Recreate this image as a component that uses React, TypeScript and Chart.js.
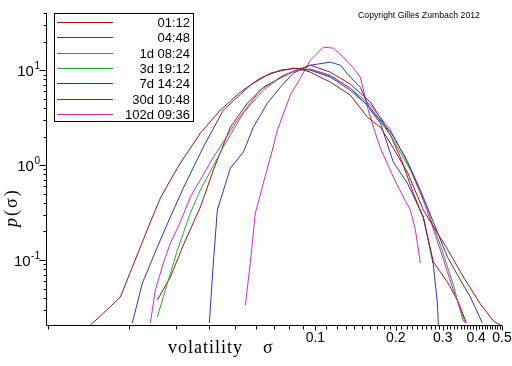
import React, { useEffect, useRef } from "react";
import { Chart, registerables } from "chart.js";
Chart.register(...registerables);

const seriesLabels = ["01:12", "04:48", "1d 08:24", "3d 19:12", "7d 14:24", "30d 10:48", "102d 09:36"];
const seriesColors = ["#a01414", "#3434b0", "#d028d0", "#28aa28", "#a01414", "#3434b0", "#d028d0"];

const sigma0112 = [0.01437, 0.01566, 0.01861, 0.02028, 0.02211, 0.0241, 0.02627, 0.02865, 0.03121, 0.03709, 0.04406, 0.05238, 0.06223, 0.07396, 0.08564, 0.0958, 0.1138, 0.1352, 0.1566, 0.1752, 0.1959, 0.2211, 0.2538, 0.3122, 0.3584, 0.415, 0.4642, 0.4931];
const p0112 = [0.0207, 0.0257, 0.0408, 0.0747, 0.137, 0.251, 0.449, 0.695, 1.05, 2.17, 3.79, 5.87, 8.24, 10.0, 10.5, 9.53, 7.48, 5.46, 3.2, 2.51, 1.51, 0.844, 0.336, 0.1305, 0.0662, 0.0344, 0.0228, 0.0207];

const sigma0448 = [0.02063, 0.0225, 0.0256, 0.02865, 0.03203, 0.03806, 0.04522, 0.0571, 0.06785, 0.08272, 0.0958, 0.1138, 0.1352, 0.1607, 0.191, 0.2173, 0.2473, 0.2767, 0.3122, 0.3492, 0.3807, 0.4222];
const p0448 = [0.0217, 0.0573, 0.137, 0.284, 0.573, 1.55, 3.79, 6.95, 9.3, 10.5, 10.0, 8.44, 6.16, 3.98, 2.23, 1.21, 0.546, 0.251, 0.108, 0.0616, 0.0408, 0.0217];

const sigma1d = [0.0241, 0.02516, 0.02696, 0.02865, 0.03121, 0.03401, 0.0415, 0.05104, 0.06223, 0.07396, 0.08564, 0.0958, 0.1138, 0.1352, 0.1607, 0.191, 0.2269, 0.2582, 0.2939, 0.3287, 0.3647];
const p1d = [0.0217, 0.0483, 0.093, 0.151, 0.251, 0.46, 1.21, 2.98, 6.16, 8.44, 10.0, 10.24, 8.65, 6.46, 4.28, 2.34, 0.93, 0.379, 0.127, 0.0483, 0.0217];

const sigma3d = [0.0256, 0.02792, 0.03043, 0.03401, 0.03709, 0.04522, 0.05375, 0.06387, 0.0759, 0.08564, 0.0958, 0.1138, 0.1352, 0.1607, 0.191, 0.2269, 0.2582, 0.2939, 0.3287, 0.3584];
const p3d = [0.0251, 0.0573, 0.127, 0.312, 0.546, 1.55, 3.53, 6.16, 8.86, 10.0, 10.24, 8.86, 6.46, 3.98, 2.07, 0.886, 0.379, 0.144, 0.0546, 0.0223];

const sigma7d = [0.0256, 0.02865, 0.03203, 0.03709, 0.0415, 0.04805, 0.05564, 0.06387, 0.07396, 0.08272, 0.0958, 0.1138, 0.1352, 0.1607, 0.1752, 0.191, 0.2082, 0.2328, 0.2538, 0.2767, 0.3122, 0.3433, 0.3678];
const p7d = [0.0379, 0.0662, 0.144, 0.361, 0.886, 2.51, 4.49, 6.62, 8.24, 9.76, 11.29, 9.53, 7.12, 4.61, 3.12, 2.07, 1.21, 0.507, 0.277, 0.0953, 0.0587, 0.0361, 0.0217];

const sigma30d = [0.04009, 0.0415, 0.04295, 0.04805, 0.05375, 0.0586, 0.06612, 0.07396, 0.08272, 0.0958, 0.1138, 0.124, 0.1352, 0.1474, 0.1607, 0.1752, 0.1959, 0.2211, 0.2538, 0.2767, 0.2864, 0.2889];
const p30d = [0.0217, 0.0953, 0.336, 0.93, 1.37, 2.51, 4.49, 6.62, 9.3, 11.29, 12.14, 11.29, 8.44, 6.62, 3.79, 2.77, 1.075, 0.647, 0.284, 0.0886, 0.0353, 0.0207];

const sigma102d = [0.05469, 0.0571, 0.05962, 0.06387, 0.06902, 0.07207, 0.08061, 0.08787, 0.0958, 0.1072, 0.1168, 0.1273, 0.1388, 0.1474, 0.1566, 0.1649, 0.1752, 0.1959, 0.2136, 0.2269, 0.2369, 0.2473];
const p102d = [0.0336, 0.0953, 0.312, 0.647, 1.44, 2.34, 5.46, 8.24, 12.74, 17.47, 17.05, 13.71, 10.5, 8.44, 4.08, 2.51, 1.51, 0.748, 0.46, 0.336, 0.207, 0.093];

const seriesSigma = [sigma0112, sigma0448, sigma1d, sigma3d, sigma7d, sigma30d, sigma102d];
const seriesP = [p0112, p0448, p1d, p3d, p7d, p30d, p102d];

const xTickValues = [0.1, 0.2, 0.3, 0.4, 0.5];
const xTickLabels = ["0.1", "0.2", "0.3", "0.4", "0.5"];
const xMinorTicks = [0.01, 0.02, 0.03, 0.04, 0.05, 0.06, 0.07, 0.08, 0.09,
  0.11, 0.12, 0.13, 0.14, 0.15, 0.16, 0.17, 0.18, 0.19,
  0.21, 0.22, 0.23, 0.24, 0.25, 0.26, 0.27, 0.28, 0.29,
  0.31, 0.32, 0.33, 0.34, 0.35, 0.36, 0.37, 0.38, 0.39,
  0.41, 0.42, 0.43, 0.44, 0.45, 0.46, 0.47, 0.48, 0.49];
const yTickValues = [0.1, 1, 10];
const yTickExponents = ["-1", "0", "1"];
const yMinorTicks = [0.03, 0.04, 0.05, 0.06, 0.07, 0.08, 0.09,
  0.2, 0.3, 0.4, 0.5, 0.6, 0.7, 0.8, 0.9,
  2, 3, 4, 5, 6, 7, 8, 9, 20, 30, 40];

const xTitle = "volatility";
const xTitleSymbol = "σ";
const yTitle = ["p", "(σ)"];
const copyright = "Copyright Gilles Zumbach 2012";

const SANS = '"Liberation Sans", Arial, sans-serif';
const SERIF = '"Liberation Serif", "Times New Roman", serif';

const decorPlugin = {
  id: "decor",
  afterDraw(chart: any) {
    const { ctx, chartArea: a, scales } = chart;
    const xs = scales.x;
    const ys = scales.y;
    const ax = Math.round(a.left) + 0.5;
    const ay = Math.round(a.bottom) + 0.5;
    ctx.save();
    ctx.strokeStyle = "#000";
    ctx.lineWidth = 1;
    ctx.beginPath();
    ctx.moveTo(ax, a.top);
    ctx.lineTo(ax, ay);
    ctx.lineTo(a.right, ay);
    for (const v of yMinorTicks) {
      const py = Math.round(ys.getPixelForValue(v)) + 0.5;
      ctx.moveTo(ax - 3, py);
      ctx.lineTo(ax, py);
    }
    for (const v of yTickValues) {
      const py = Math.round(ys.getPixelForValue(v)) + 0.5;
      ctx.moveTo(ax - 7, py);
      ctx.lineTo(ax, py);
    }
    for (const v of xMinorTicks) {
      const px = Math.round(xs.getPixelForValue(v)) + 0.5;
      ctx.moveTo(px, ay);
      ctx.lineTo(px, ay + 4);
    }
    for (const v of xTickValues) {
      const px = Math.round(xs.getPixelForValue(v)) + 0.5;
      ctx.moveTo(px, ay);
      ctx.lineTo(px, ay + 5);
    }
    ctx.stroke();

    ctx.fillStyle = "#000";
    // x tick labels
    ctx.font = "14px " + SANS;
    ctx.textAlign = "center";
    ctx.textBaseline = "alphabetic";
    xTickValues.forEach((v, i) => {
      ctx.fillText(xTickLabels[i], xs.getPixelForValue(v), 342);
    });
    // y tick labels with superscript exponent
    yTickValues.forEach((v, i) => {
      const py = ys.getPixelForValue(v);
      ctx.font = "10px " + SANS;
      ctx.textAlign = "right";
      const ew = ctx.measureText(yTickExponents[i]).width;
      ctx.fillText(yTickExponents[i], 40, py - 1);
      ctx.font = "15px " + SANS;
      ctx.fillText("10", 40 - ew - 0.5, py + 6);
    });

    // x title
    ctx.textAlign = "left";
    ctx.font = "18px " + SERIF;
    (ctx as any).letterSpacing = "1px";
    ctx.fillText(xTitle, 168, 353);
    (ctx as any).letterSpacing = "0px";
    ctx.fillText(xTitleSymbol, 263, 353);

    // y title rotated
    ctx.save();
    ctx.translate(17, 227);
    ctx.rotate(-Math.PI / 2);
    ctx.textAlign = "left";
    ctx.font = "italic 18px " + SERIF;
    ctx.fillText(yTitle[0], 0, 0);
    const pw = ctx.measureText(yTitle[0]).width;
    ctx.font = "18px " + SERIF;
    (ctx as any).letterSpacing = "2px";
    ctx.fillText(yTitle[1], pw + 2, 0);
    (ctx as any).letterSpacing = "0px";
    ctx.restore();

    // copyright
    ctx.font = "9px " + SANS;
    const cw = ctx.measureText(copyright).width;
    const fs = (9 * 122) / cw;
    ctx.font = fs.toFixed(2) + "px " + SANS;
    ctx.textAlign = "left";
    ctx.textBaseline = "middle";
    ctx.fillText(copyright, 358, 16);

    // legend
    const lx0 = 54.5, ly0 = 13.5, lx1 = 193.5, ly1 = 121.5;
    ctx.fillStyle = "#fff";
    ctx.fillRect(lx0, ly0, lx1 - lx0, ly1 - ly0);
    ctx.strokeStyle = "#000";
    ctx.strokeRect(lx0, ly0, lx1 - lx0, ly1 - ly0);
    ctx.font = "13px " + SANS;
    ctx.textAlign = "right";
    ctx.textBaseline = "middle";
    seriesLabels.forEach((lab, i) => {
      const ry = Math.round(22 + i * 15.3) + 0.5;
      ctx.strokeStyle = seriesColors[i];
      ctx.beginPath();
      ctx.moveTo(57, ry);
      ctx.lineTo(113, ry);
      ctx.stroke();
      ctx.fillStyle = "#000";
      ctx.fillText(lab, 190, ry + 0.5);
    });
    ctx.restore();
  },
};

export default function App() {
  const ref = useRef<HTMLCanvasElement | null>(null);
  useEffect(() => {
    if (!ref.current) return;
    const datasets = seriesLabels.map((lab, i) => ({
      label: lab,
      data: seriesSigma[i].map((s, j) => ({ x: s, y: seriesP[i][j] })),
      borderColor: seriesColors[i],
      backgroundColor: seriesColors[i],
      borderWidth: 1,
      pointRadius: 0,
      tension: 0,
      fill: false,
    }));
    const chart = new Chart(ref.current, {
      type: "line",
      data: { datasets },
      options: {
        animation: false,
        responsive: false,
        devicePixelRatio: 1,
        layout: { padding: { left: 46, top: 13, right: 10, bottom: 41 } },
        plugins: { legend: { display: false }, tooltip: { enabled: false } },
        scales: {
          x: { type: "logarithmic", min: 0.0098, max: 0.5, display: false },
          y: { type: "logarithmic", min: 0.0207, max: 40, display: false },
        },
      },
      plugins: [decorPlugin],
    });
    return () => chart.destroy();
  }, []);
  return (
    <div style={{ position: "fixed", left: 0, top: 0, width: 512, height: 366, background: "#fff" }}>
      <canvas ref={ref} width={512} height={366} style={{ display: "block" }} />
    </div>
  );
}
